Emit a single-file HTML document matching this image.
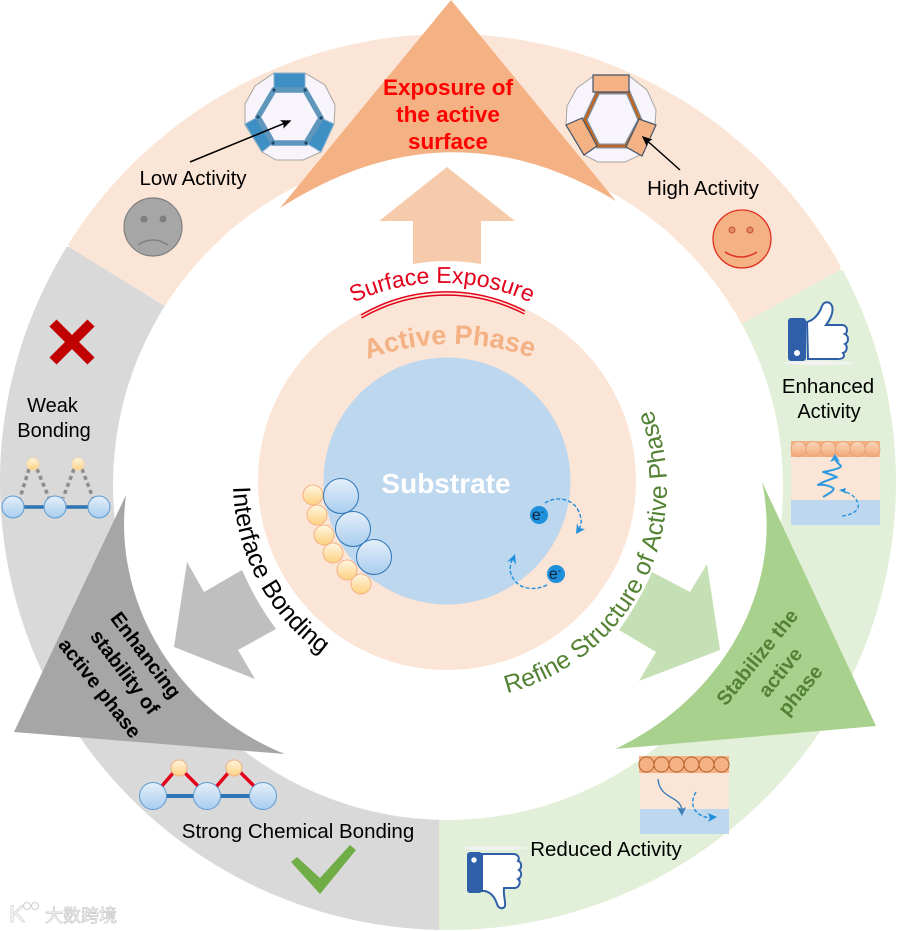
<!DOCTYPE html>
<html><head><meta charset="utf-8">
<style>html,body{margin:0;padding:0;background:#fff}svg{display:block}
text{font-family:"Liberation Sans","Noto Sans CJK SC",sans-serif}</style></head>
<body>
<svg width="897" height="931" viewBox="0 0 897 931" xmlns="http://www.w3.org/2000/svg">
<defs>
<linearGradient id="b" x1="0" y1="0" x2="0" y2="1"><stop offset="0" stop-color="#e4eff9"/><stop offset="1" stop-color="#a9cdee"/></linearGradient>
<linearGradient id="y" x1="0" y1="0" x2="0" y2="1"><stop offset="0" stop-color="#fff6e2"/><stop offset="1" stop-color="#fdd080"/></linearGradient>
<linearGradient id="o" x1="0" y1="0" x2="0" y2="1"><stop offset="0" stop-color="#fbd5bb"/><stop offset="1" stop-color="#f2a978"/></linearGradient>
<clipPath id="co"><polygon points="69,247 163,305 448,480 745,322 840,270 897,0 0,0"/></clipPath>
<clipPath id="cg"><polygon points="69,247 163,305 448,480 439,480 439,931 0,931 0,247"/></clipPath>
<clipPath id="cn"><polygon points="840,270 745,322 448,480 439,480 439,931 897,931 897,270"/></clipPath>
<path id="pSurf" d="M232,493 A210,210 0 0 1 652,493"/>
<path id="pAct" d="M211,585 A241,241 0 0 1 693,585"/>
<path id="pInt" d="M233,481 A214,214 0 0 0 447,695"/>
<path id="pRef" d="M507,693 A212,212 0 0 0 648,400"/>
<marker id="ak" markerWidth="8" markerHeight="8" refX="6" refY="3" orient="auto"><path d="M0,0 L7,3 L0,6 L1.5,3 Z" fill="#000"/></marker>
</defs>

<circle cx="448" cy="482" r="448" fill="#fbe5d6" clip-path="url(#co)"/>
<circle cx="448" cy="482" r="448" fill="#d9d9d9" clip-path="url(#cg)"/>
<circle cx="448" cy="482" r="448" fill="#e2f0d9" clip-path="url(#cn)"/>
<circle cx="448" cy="485" r="335" fill="#fff"/>

<!-- big triangles -->
<path d="M451,0 L616,201 Q448,100 280,208 Z" fill="#f4b183"/>
<path d="M126,495 C112,600 175,710 285,754 L14,732 Z" fill="#a6a6a6"/>
<path d="M762,482 C785,590 720,700 615,749 L876,726 Z" fill="#a9d18e"/>

<!-- block arrows -->
<path d="M447,167 L515,221 L481,221 L481,264 Q447,258 413,264 L413,221 L379,221 Z" fill="#f6cbac"/>
<path d="M174,647 L187,562 L204,592 L242,570 Q256,602 276,629 L238,650 L255,679 Z" fill="#bfbfbf"/>
<path d="M720,650 L707,564 L690,592 L652,572 Q638,604 619,630 L656,652 L639,681 Z" fill="#c5e0b4"/>

<!-- central circles -->
<circle cx="447" cy="481" r="189" fill="#fbe5d6"/>
<circle cx="447" cy="481" r="123.5" fill="#bdd7ee"/>

<text x="446" y="493" font-size="28" font-weight="bold" fill="#fff" text-anchor="middle">Substrate</text>

<text font-size="23" fill="#e3001b" text-anchor="middle"><textPath href="#pSurf" startOffset="50%">Surface Exposure</textPath></text>
<path d="M361,315 A170,170 0 0 1 525,311" fill="none" stroke="#e3001b" stroke-width="1.5"/>
<path d="M361.500,318 A170,170 0 0 1 524.500,314" fill="none" stroke="#e3001b" stroke-width="1.5"/>

<text font-size="27" font-weight="bold" fill="#f4b183" text-anchor="middle"><textPath href="#pAct" startOffset="49.7%">Active Phase</textPath></text>

<text font-size="25" fill="#000"><textPath href="#pInt" startOffset="6">Interface Bonding</textPath></text>
<text font-size="25" fill="#548235"><textPath href="#pRef">Refine Structure of Active Phase</textPath></text>

<!-- interface bubbles -->
<g fill="url(#y)" stroke="#f4b183" stroke-width="1">
<circle cx="313" cy="495" r="10"/><circle cx="317" cy="515" r="10"/><circle cx="324" cy="535" r="10"/>
<circle cx="333" cy="553" r="10"/><circle cx="347" cy="570" r="10"/><circle cx="361" cy="584" r="10"/>
</g>
<g fill="url(#b)" stroke="#2e75b6" stroke-width="1">
<circle cx="341" cy="496" r="17.5"/><circle cx="353" cy="529" r="17.5"/><circle cx="374" cy="557" r="17.5"/>
</g>

<!-- electrons -->
<circle cx="539" cy="515" r="9" fill="#1e90dc"/>
<text x="538" y="520" font-size="16" text-anchor="middle" fill="#10243a">e<tspan font-size="10" dy="-5">-</tspan></text>
<circle cx="556" cy="574" r="9" fill="#1e90dc"/>
<text x="555" y="579" font-size="16" text-anchor="middle" fill="#10243a">e<tspan font-size="10" dy="-5">-</tspan></text>
<path d="M545,503 C555,496 572,498 578,510 C582,518 582,524 579,529" fill="none" stroke="#1e90dc" stroke-width="1.4" stroke-dasharray="4 2"/>
<polygon points="576,534 585,529 579,528 577,523" fill="#1e90dc"/>
<path d="M547,585 C537,590 523,590 516,582 C510,576 508,568 513,558" fill="none" stroke="#1e90dc" stroke-width="1.4" stroke-dasharray="4 2"/>
<polygon points="515,554 507,562 513,560 516,565" fill="#1e90dc"/>

<!-- triangle text -->
<text x="448" y="95" font-size="22.5" font-weight="bold" fill="#f00" text-anchor="middle">Exposure of</text>
<text x="448" y="122" font-size="22.5" font-weight="bold" fill="#f00" text-anchor="middle">the active</text>
<text x="448" y="149" font-size="22.5" font-weight="bold" fill="#f00" text-anchor="middle">surface</text>

<g font-size="20" font-weight="bold" fill="#000" text-anchor="middle">
<text transform="translate(146,655) rotate(53)" y="7">Enhancing</text>
<text transform="translate(125,672) rotate(53)" y="7">stability of</text>
<text transform="translate(100,688) rotate(52)" y="7">active phase</text>
</g>
<g font-size="20" font-weight="bold" fill="#548235" text-anchor="middle">
<text transform="translate(757,657) rotate(-51)" y="7">Stabilize the</text>
<text transform="translate(780,672) rotate(-51)" y="7">active</text>
<text transform="translate(800,690) rotate(-51)" y="7">phase</text>
</g>

<!-- left polyhedron -->
<polygon points="274,73 305,73 325,85 335,105 334,124 321,152 303,160 276,160 262,152 245,125 245,104 255,86" fill="#f8f4fb" stroke="#a6a6a6" stroke-width="1"/>
<g fill="#3e8fc4" stroke="#8eb2ca" stroke-width="1">
<polygon points="274,73 305,73 305,90 274,90"/>
<polygon points="245,124 258,117 273,143 262,152"/>
<polygon points="321,118 334,124 321,152 306,143"/>
</g>
<polygon points="274,90 305,90 321,118 306,143 273,143 258,117" fill="#f8f4fb" stroke="#5f97bc" stroke-width="5.5"/>
<g fill="#1f4a68"><circle cx="274" cy="90" r="1.6"/><circle cx="305" cy="90" r="1.6"/><circle cx="321" cy="118" r="1.6"/><circle cx="306" cy="143" r="1.6"/><circle cx="273" cy="143" r="1.6"/><circle cx="258" cy="117" r="1.6"/></g>

<!-- right polyhedron -->
<polygon points="595,75 628,75 647,90 656,110 655,126 640,155 625,162 598,162 584,155 566,125 567,106 577,88" fill="#f8f4fb" stroke="#a6a6a6" stroke-width="1"/>
<polygon points="598,92 628,92 640,120 626,146 598,146 585,120" fill="#f8f4fb" stroke="#7f8fa0" stroke-width="5"/>
<polygon points="598,92 628,92 640,120 626,146 598,146 585,120" fill="none" stroke="#c0651f" stroke-width="2.5"/>
<g fill="#f4b183" stroke="#44546a" stroke-width="1.2">
<polygon points="593,75 629,75 629,92 593,92"/>
<polygon points="566,125 582,118 597,146 584,155"/>
<polygon points="639,119 656,125 642,156 626,147"/>
</g>

<line x1="190" y1="162" x2="290" y2="121" stroke="#000" stroke-width="1.5" marker-end="url(#ak)"/>
<line x1="680" y1="170" x2="643" y2="137" stroke="#000" stroke-width="1.5" marker-end="url(#ak)"/>

<g fill="#000" text-anchor="middle">
<text x="193" y="185" font-size="20.5">Low Activity</text>
<text x="703" y="195" font-size="20.5">High Activity</text>
<text x="52.5" y="412" font-size="20">Weak</text>
<text x="54" y="437" font-size="20">Bonding</text>
<text x="828" y="393" font-size="20.5">Enhanced</text>
<text x="829" y="418" font-size="20">Activity</text>
<text x="298" y="838" font-size="20.5">Strong Chemical Bonding</text>
<text x="606" y="856" font-size="20.5">Reduced Activity</text>
</g>

<!-- faces -->
<circle cx="153" cy="227" r="29" fill="#a6a6a6" stroke="#7f7f7f" stroke-width="1.2"/>
<circle cx="144" cy="219" r="3.5" fill="#7f7f7f"/><circle cx="163" cy="219" r="3.5" fill="#7f7f7f"/>
<path d="M138,245 Q153,235 168,245" fill="none" stroke="#7f7f7f" stroke-width="1.5"/>

<circle cx="742" cy="239" r="29" fill="#f4b183" stroke="#e03020" stroke-width="1.3"/>
<circle cx="732" cy="230" r="3" fill="#e08a60" stroke="#c8503a"/><circle cx="750" cy="230" r="3" fill="#e08a60" stroke="#c8503a"/>
<path d="M725,252 Q741,262 757,252" fill="none" stroke="#e03020" stroke-width="1.5"/>

<!-- X -->
<path d="M53,323 L91,361 M91,323 L53,361" stroke="#c00000" stroke-width="10" fill="none"/>

<!-- weak bonding -->
<g stroke="#8c8c8c" stroke-width="3.5" stroke-dasharray="4 3.5" fill="none">
<path d="M29,469 L20,498"/><path d="M37,469 L49,498"/><path d="M74,469 L63,498"/><path d="M82,469 L93,498"/>
</g>
<line x1="13" y1="507" x2="99" y2="507" stroke="#2e75b6" stroke-width="3.5"/>
<g fill="url(#b)" stroke="#5b9bd5"><circle cx="13" cy="507" r="11"/><circle cx="55" cy="507" r="11"/><circle cx="99" cy="507" r="11"/></g>
<g fill="url(#y)" stroke="#f7d9a8"><circle cx="33" cy="464" r="6"/><circle cx="78" cy="464" r="6"/></g>

<!-- strong bonding -->
<g stroke="#e3001b" stroke-width="3.5" fill="none">
<path d="M174,772 L161,787"/><path d="M184,772 L199,787"/><path d="M229,772 L216,787"/><path d="M240,772 L255,787"/>
</g>
<line x1="153" y1="796" x2="263" y2="796" stroke="#2e75b6" stroke-width="4"/>
<g fill="url(#b)" stroke="#5b9bd5"><circle cx="153" cy="796" r="13.5"/><circle cx="207" cy="796" r="13.5"/><circle cx="263" cy="796" r="13.5"/></g>
<g fill="url(#y)" stroke="#f4b183"><circle cx="179" cy="768" r="8"/><circle cx="234" cy="768" r="8"/></g>

<!-- check -->
<polygon points="291,862 297,857 320,878 350,845 356,850 320,894" fill="#70ad47"/>

<!-- thumb up -->
<ellipse cx="818" cy="363" rx="35" ry="2" fill="#f2f2f2"/>
<path d="M807,322 C815,320 820,312 822,306 C824,301 830,301 832,306 C834,312 830,320 826,325 L842,325 C848,325 848,333 845,334 C849,336 849,342 845,344 C848,346 847,352 843,353 C845,356 844,359 838,359 L808,359 Z" fill="#fff" stroke="#2f5fa8" stroke-width="2"/>
<rect x="788" y="318" width="18" height="43" rx="3" fill="#2f5fa8"/>
<circle cx="797" cy="353" r="3" fill="#fff"/>

<!-- thumb down -->
<ellipse cx="494" cy="848" rx="32" ry="2" fill="#f2f2f2"/>
<path d="M482,854 L513,854 C518,854 520,858 518,861 C522,862 522,868 519,870 C522,872 522,877 518,879 C521,881 520,887 515,888 L504,888 C503,896 506,902 505,906 C503,910 498,908 497,904 C495,898 492,893 485,891 L482,891 Z" fill="#fff" stroke="#2f5fa8" stroke-width="2"/>
<rect x="467" y="852" width="15" height="41" rx="3" fill="#2f5fa8"/>
<circle cx="474" cy="860" r="2.7" fill="#fff"/>

<!-- enhanced box -->
<rect x="791" y="441" width="89" height="16" fill="#f4b183"/>
<rect x="791" y="457" width="89" height="43" fill="#fbe5d6"/>
<rect x="791" y="500" width="89" height="25" fill="#bdd7ee"/>
<g fill="url(#o)" stroke="#e8a070" stroke-width=".8">
<circle cx="798.5" cy="449" r="7.5"/><circle cx="813.3" cy="449" r="7.5"/><circle cx="828.1" cy="449" r="7.5"/><circle cx="842.9" cy="449" r="7.5"/><circle cx="857.7" cy="449" r="7.5"/><circle cx="872.5" cy="449" r="7.5"/>
</g>
<path d="M823,497 Q836,490 833,488 Q826,484 818,485 Q822,482 837,477 Q830,474 823,472 Q845,468 840,465 Q836,462 835,458" fill="none" stroke="#2e9ae0" stroke-width="2" stroke-linejoin="round"/>
<polygon points="835,454 830,462 835,460 840,462" fill="#2e9ae0"/>
<path d="M842,516 C852,515 860,510 858,504 C857,498 851,493 843,491" fill="none" stroke="#1e90dc" stroke-width="1.3" stroke-dasharray="4 2"/>
<polygon points="839,490 846,488 845,491 847,494" fill="#1e90dc"/>

<!-- reduced box -->
<rect x="639" y="756" width="90" height="17" fill="#f4b183"/>
<rect x="640" y="773" width="89" height="36" fill="#fbe5d6"/>
<rect x="640" y="809" width="89" height="25" fill="#bdd7ee"/>
<g fill="none" stroke="#b5602a" stroke-width="1">
<circle cx="646.5" cy="764.5" r="7.5"/><circle cx="661.5" cy="764.5" r="7.5"/><circle cx="676.5" cy="764.5" r="7.5"/><circle cx="691.5" cy="764.5" r="7.5"/><circle cx="706.5" cy="764.5" r="7.5"/><circle cx="721.5" cy="764.5" r="7.5"/>
</g>
<path d="M658,779 C660,800 680,795 682,810" fill="none" stroke="#3f7fb8" stroke-width="1.4"/>
<polygon points="682,816 677,807 682,809 686,807" fill="#3f7fb8"/>
<path d="M696,792 C688,805 695,816 710,818" fill="none" stroke="#1e90dc" stroke-width="1.4" stroke-dasharray="4 2"/>
<polygon points="717,817 708,813 710,818 708,822" fill="#1e90dc"/>

<!-- watermark -->
<text x="9" y="922" font-size="24" fill="#fff" stroke="#cfcfcf" stroke-width=".8">K</text>
<circle cx="27" cy="906" r="3.5" fill="none" stroke="#cfcfcf"/><circle cx="35" cy="906" r="3.5" fill="none" stroke="#cfcfcf"/>
<text x="45" y="922" font-size="18" fill="#fff" stroke="#c8c8c8" stroke-width=".7">大数跨境</text>
</svg>
</body></html>
